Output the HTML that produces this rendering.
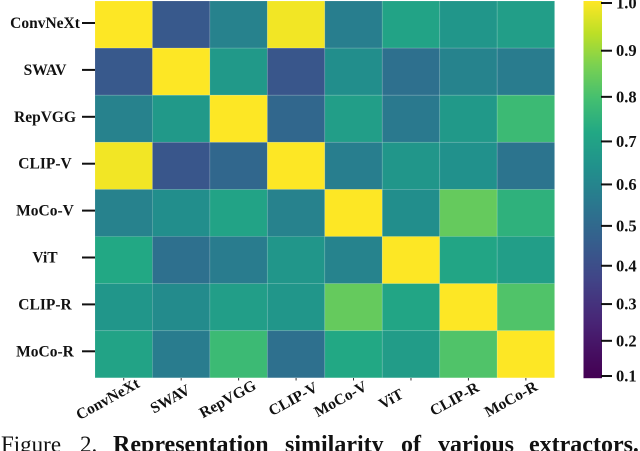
<!DOCTYPE html>
<html lang="en">
<head>
<meta charset="utf-8">
<title>Representation similarity heatmap</title>
<style>
html,body{margin:0;padding:0;background:#fff;width:640px;height:451px;overflow:hidden}
svg{display:block}
text{font-family:"Liberation Serif",serif;fill:#111}
.tick{font-weight:700;font-size:15.5px}
.cb{font-weight:700;font-size:16.5px}
.cap{font-size:23px}
.capb{font-size:24px;font-weight:700}
</style>
</head>
<body>
<svg id="chart" width="640" height="451" viewBox="0 0 640 451" xmlns="http://www.w3.org/2000/svg">
  <g id="cells"></g>
  <g id="colorbar"></g>
  <g id="yaxis"></g>
  <g id="xaxis"></g>
  <g id="cbaxis"></g>
  <g>
    <text class="cap" x="1" y="452">Figure</text>
    <text class="cap" x="80" y="452">2.</text>
    <text class="capb" x="113" y="452">Representation</text>
    <text class="capb" x="285" y="452">similarity</text>
    <text class="capb" x="401" y="452">of</text>
    <text class="capb" x="438" y="452">various</text>
    <text class="capb" x="529" y="452">extractors.</text>
  </g>
</svg>
<script>
const categories = ["ConvNeXt","SWAV","RepVGG","CLIP-V","MoCo-V","ViT","CLIP-R","MoCo-R"];
const rowConvNeXt = [1, .35, .495, .985, .48, .62, .57, .60];
const rowSWAV = [.35, 1, .58, .34, .54, .43, .50, .475];
const rowRepVGG = [.495, .58, 1, .40, .60, .465, .58, .71];
const rowClipV = [.985, .34, .40, 1, .48, .57, .55, .445];
const rowMoCoV = [.495, .54, .62, .495, 1, .54, .785, .675];
const rowViT = [.64, .43, .475, .57, .50, 1, .63, .60];
const rowClipR = [.57, .53, .60, .57, .785, .63, 1, .75];
const rowMoCoR = [.62, .475, .71, .43, .64, .595, .75, 1];
const colorbarTicks = [1.0,.9,.8,.7,.6,.5,.4,.3,.2,.1];
const xLabelNudge = [-2,3,3,11,1,-6,0,-1];

const matrix = [rowConvNeXt,rowSWAV,rowRepVGG,rowClipV,rowMoCoV,rowViT,rowClipR,rowMoCoR];
const NS = "http://www.w3.org/2000/svg";
const viridis = [[68,1,84],[72,36,117],[65,68,135],[53,95,141],[42,120,142],[33,145,140],[34,168,132],[68,191,112],[122,209,81],[189,223,38],[253,231,37]];
function colorAt(t){
  t = Math.max(0,Math.min(1,t))*10;
  const i = Math.min(9,Math.floor(t)), f = t-i;
  const c = viridis[i].map((a,k)=>Math.round(a+(viridis[i+1][k]-a)*f));
  return "rgb("+c.join(",")+")";
}
const norm = v => (v-0.1)/0.9;
const left=95, top0=1, cellW=57.45, cellH=47.1;
const xBand = i => left+i*cellW;
const yBand = i => top0+i*cellH;
function el(tag,attrs,parent){
  const e=document.createElementNS(NS,tag);
  for(const k in attrs) e.setAttribute(k,attrs[k]);
  parent.appendChild(e);
  return e;
}
const cells=document.getElementById("cells");
matrix.forEach((row,r)=>row.forEach((v,c)=>{
  const rect=el("rect",{x:xBand(c),y:yBand(r),width:cellW,height:cellH,fill:colorAt(norm(v)),stroke:"rgba(255,255,255,.15)","stroke-width":.8},cells);
  
  
}));
const yaxis=document.getElementById("yaxis");
const yTick = i => 23+i*46.9;
categories.forEach((name,i)=>{
  const t=el("line",{x1:82,x2:95,y1:yTick(i),y2:yTick(i),stroke:"#111","stroke-width":2},yaxis);
  
  
  const l=el("text",{class:"tick",x:45,y:yTick(i)+5,"text-anchor":"middle"},yaxis);
  l.textContent=name;
  
  
});
const xaxis=document.getElementById("xaxis");
const xTick = i => xBand(i)+cellW/2;
categories.forEach((name,i)=>{
  const t=el("line",{x1:xTick(i),x2:xTick(i),y1:378,y2:380.5,stroke:"#333","stroke-width":1},xaxis);
  
  
  const cx=xTick(i)-14+xLabelNudge[i], cy=399;
  const l=el("text",{class:"tick","text-anchor":"middle",transform:"translate("+cx+","+cy+") rotate(-29) translate(0,5)"},xaxis);
  l.textContent=name;
  
  
});
const colorbar=document.getElementById("colorbar");
const cbTop=1, cbBottom=378, cbLeft=583.5, cbWidth=18.5;
for(let y=cbTop;y<cbBottom;y++){
  const s=el("rect",{x:cbLeft,y:y,width:cbWidth,height:1.2,fill:colorAt(Math.pow((cbBottom-y)/(cbBottom-cbTop),1.2))},colorbar);
  
  
}
const cbaxis=document.getElementById("cbaxis");
function cbY(v){
  const t=norm(v);
  return 376-373*(0.83*t+0.17*t*t);
}
colorbarTicks.forEach(v=>{
  const y=cbY(v);
  const t=el("line",{x1:601,x2:612,y1:y,y2:y,stroke:"#111","stroke-width":2},cbaxis);
  
  
  const l=el("text",{class:"cb",x:616,y:y+5.5},cbaxis);
  l.textContent=v.toFixed(1);
  
  
});
</script>
</body>
</html>
